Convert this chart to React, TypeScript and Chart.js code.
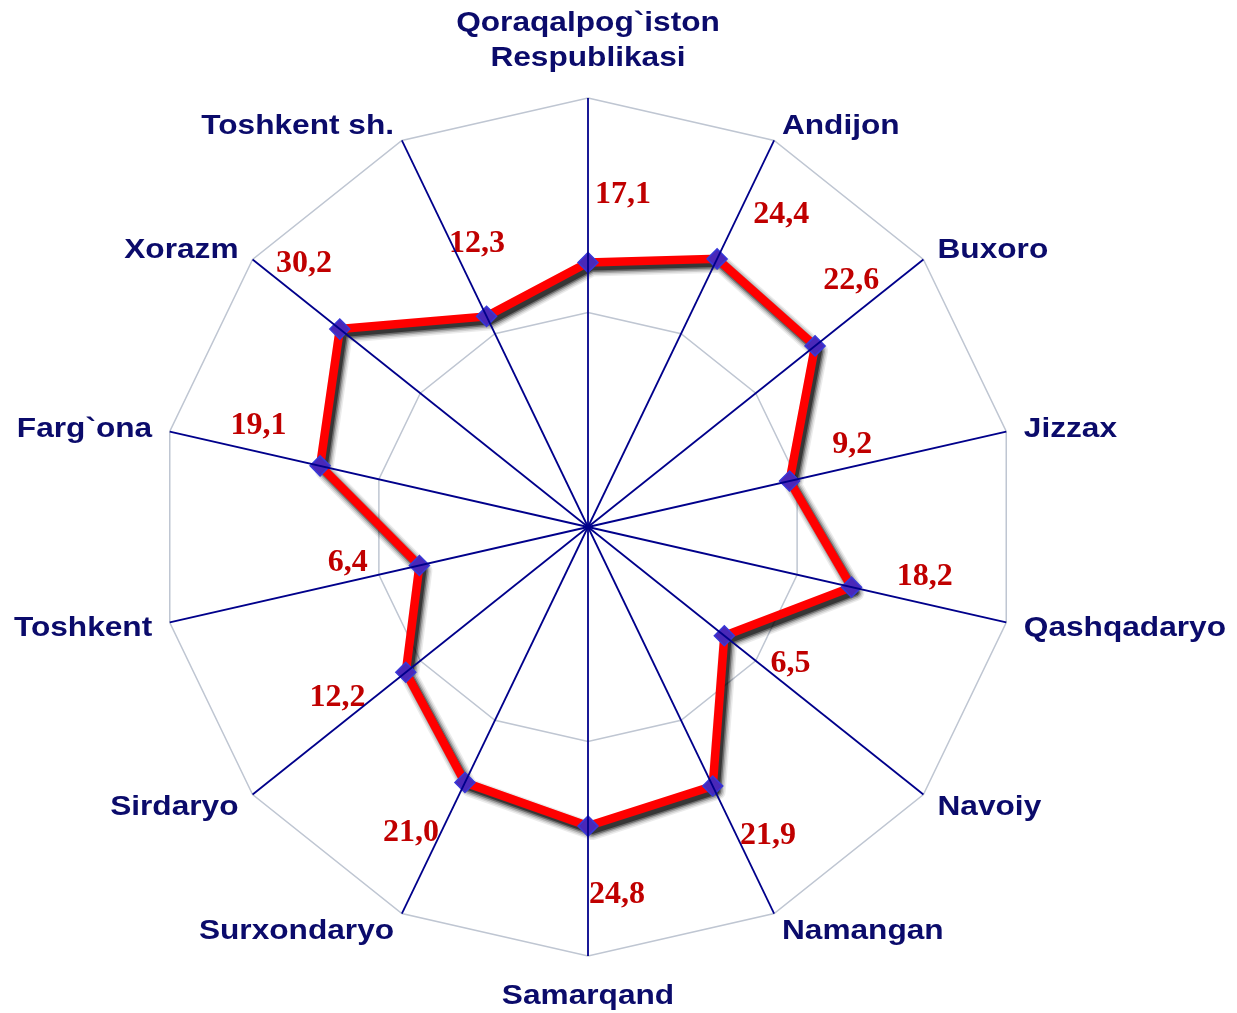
import React, { useEffect, useRef } from 'react';
import { Chart, registerables, RadialLinearScale } from 'chart.js';

// ---- data ----
const categories: (string | string[])[] = [
  ['Qoraqalpog`iston', 'Respublikasi'],
  'Andijon',
  'Buxoro',
  'Jizzax',
  'Qashqadaryo',
  'Navoiy',
  'Namangan',
  'Samarqand',
  'Surxondaryo',
  'Sirdaryo',
  'Toshkent',
  'Farg`ona',
  'Xorazm',
  'Toshkent sh.',
];
const values = [17.1, 24.4, 22.6, 9.2, 18.2, 6.5, 21.9, 24.8, 21.0, 12.2, 6.4, 19.1, 30.2, 12.3];
const axisTicks = [1, 10, 100];

// ---- logarithmic radial scale ----
class RadialLogScale extends (RadialLinearScale as any) {
  static id = 'radialLog';
  buildTicks() {
    return axisTicks.map((v) => ({ value: v }));
  }
  getDistanceFromCenterForValue(value: number) {
    if (value === null || value === undefined || isNaN(value)) return NaN;
    const lo = Math.log10(this.min);
    const hi = Math.log10(this.max);
    const f = (Math.log10(value) - lo) / (hi - lo);
    return (this.options.reverse ? 1 - f : f) * this.drawingArea;
  }
  getValueForDistanceFromCenter(distance: number) {
    const lo = Math.log10(this.min);
    const hi = Math.log10(this.max);
    const f = distance / this.drawingArea;
    return Math.pow(10, lo + (this.options.reverse ? 1 - f : f) * (hi - lo));
  }
}

Chart.register(...registerables, RadialLogScale as any);

const NAVY = '#0b0b6b';
const SPOKE = '#00008b';
const RED_TEXT = '#c00000';

// soft dark shadow under the red line (offset down-right)
const shadowPlugin = {
  id: 'lineShadow',
  beforeDatasetDraw(chart: any) {
    const ctx = chart.ctx;
    const pts = chart.getDatasetMeta(0).data;
    const layers = [
      { w: 18, a: 0.08 },
      { w: 15, a: 0.12 },
      { w: 12, a: 0.2 },
      { w: 9, a: 0.35 },
      { w: 6, a: 0.5 },
    ];
    ctx.save();
    ctx.lineJoin = 'round';
    layers.forEach((l) => {
      ctx.strokeStyle = `rgba(0,0,0,${l.a})`;
      ctx.lineWidth = l.w;
      ctx.beginPath();
      pts.forEach((p: any, i: number) => {
        if (i === 0) ctx.moveTo(p.x + 4, p.y + 5);
        else ctx.lineTo(p.x + 4, p.y + 5);
      });
      ctx.closePath();
      ctx.stroke();
    });
    ctx.restore();
  },
};

// spokes drawn on top of the series, as in the original
const spokePlugin = {
  id: 'spokesOnTop',
  afterDatasetsDraw(chart: any) {
    const scale = chart.scales.r;
    const ctx = chart.ctx;
    ctx.save();
    ctx.strokeStyle = SPOKE;
    ctx.lineWidth = 1.8;
    categories.forEach((_, i) => {
      const p = scale.getPointPosition(i, scale.getDistanceFromCenterForValue(scale.max));
      ctx.beginPath();
      ctx.moveTo(scale.xCenter, scale.yCenter);
      ctx.lineTo(p.x, p.y);
      ctx.stroke();
    });
    ctx.restore();
  },
};

const categoryLabelPlugin = {
  id: 'categoryLabels',
  afterDraw(chart: any) {
    const scale = chart.scales.r;
    const ctx = chart.ctx;
    const stretch = 1.13;
    ctx.save();
    ctx.font = 'bold 28px "Liberation Sans", Arial, sans-serif';
    ctx.fillStyle = NAVY;
    ctx.textBaseline = 'middle';
    const lineH = 35;
    const put = (txt: string, x: number, y: number) => {
      ctx.save();
      ctx.translate(x, y);
      ctx.scale(stretch, 1);
      ctx.fillText(txt, 0, 0);
      ctx.restore();
    };
    categories.forEach((cat, i) => {
      const lines = Array.isArray(cat) ? cat : [cat];
      const theta = scale.getIndexAngle(i);
      const s = Math.sin(theta);
      const c = Math.cos(theta);
      const p = scale.getPointPosition(i, scale.drawingArea + 18);
      if (Math.abs(s) < 0.05) {
        ctx.textAlign = 'center';
        if (c > 0) {
          lines.forEach((ln, k) => put(ln, p.x, p.y - 22 - (lines.length - 1 - k) * lineH));
        } else {
          lines.forEach((ln, k) => put(ln, p.x, p.y + 22 + k * lineH));
        }
      } else {
        ctx.textAlign = s > 0 ? 'left' : 'right';
        const y0 = p.y + 2 - ((lines.length - 1) * lineH) / 2;
        lines.forEach((ln, k) => put(ln, p.x, y0 + k * lineH));
      }
    });
    ctx.restore();
  },
};

const valueLabelPlugin = {
  id: 'valueLabels',
  afterDatasetsDraw(chart: any) {
    const scale = chart.scales.r;
    const ctx = chart.ctx;
    const ds = chart.data.datasets[0];
    ctx.save();
    ctx.font = 'bold 32px "Liberation Serif", "Times New Roman", serif';
    ctx.fillStyle = RED_TEXT;
    ctx.textAlign = 'center';
    ctx.textBaseline = 'middle';
    (ds.data as number[]).forEach((v, i) => {
      const theta = scale.getIndexAngle(i);
      const deg = (theta * 180) / Math.PI;
      let delta;
      if (deg < 40 || deg > 355) delta = 6;
      else if (deg <= 181) delta = -4.5;
      else delta = 4.3;
      const a = theta + (delta * Math.PI) / 180 - Math.PI / 2;
      const d = scale.getDistanceFromCenterForValue(v) + 70;
      const x = scale.xCenter + Math.cos(a) * d;
      const y = scale.yCenter + Math.sin(a) * d;
      ctx.fillText(v.toFixed(1).replace('.', ','), x, y);
    });
    ctx.restore();
  },
};

export default function App() {
  const ref = useRef<HTMLCanvasElement | null>(null);
  useEffect(() => {
    if (!ref.current) return;
    const chart = new Chart(ref.current, {
      type: 'radar',
      data: {
        labels: categories as any,
        datasets: [
          {
            data: values,
            borderColor: '#ff0000',
            borderWidth: 8.5,
            fill: false,
            tension: 0,
            pointStyle: 'rectRot',
            pointRadius: 10,
            pointBackgroundColor: '#4a28b8',
            pointBorderColor: '#3838d8',
            pointBorderWidth: 1.5,
          },
        ],
      },
      options: {
        responsive: false,
        devicePixelRatio: 1,
        animation: false,
        layout: { padding: { left: 159, right: 220, top: 98, bottom: 57 } },
        plugins: { legend: { display: false }, tooltip: { enabled: false } },
        scales: {
          r: {
            type: 'radialLog' as any,
            min: 1,
            max: 100,
            ticks: { display: false },
            pointLabels: { display: false },
            grid: { color: '#bfc6d2', lineWidth: 1.5, circular: false },
            angleLines: { display: false },
          },
        },
      } as any,
      plugins: [shadowPlugin, valueLabelPlugin, spokePlugin, categoryLabelPlugin],
    });
    return () => chart.destroy();
  }, []);
  return (
    <div style={{ position: 'absolute', left: 0, top: 0, width: 1237, height: 1013, background: '#ffffff' }}>
      <canvas ref={ref} width={1237} height={1013} style={{ display: 'block' }} />
    </div>
  );
}
